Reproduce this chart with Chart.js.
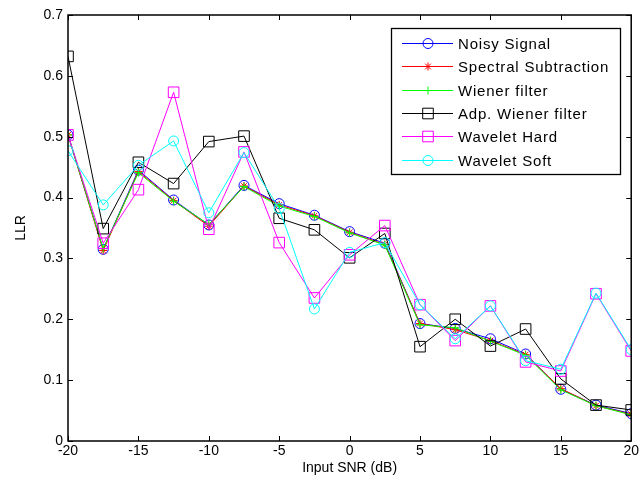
<!DOCTYPE html>
<html>
<head>
<meta charset="utf-8">
<script src="https://cdn.jsdelivr.net/npm/chart.js@4/dist/chart.umd.min.js"></script>
<style>
html, body { margin: 0; padding: 0; background: #fff; }
canvas { display: block; }
</style>
</head>
<body>
<canvas id="llrChart" width="641" height="486"></canvas>
<script>
let snrValues = [-20, -17.5, -15, -12.5, -10, -7.5, -5, -2.5, 0, 2.5, 5, 7.5, 10, 12.5, 15, 17.5, 20];

let noisySignal = [0.503, 0.315, 0.445, 0.396, 0.355, 0.420, 0.390, 0.371, 0.344, 0.325, 0.193, 0.185, 0.168, 0.143, 0.085, 0.059, 0.045];
let spectralSub = [0.503, 0.313, 0.443, 0.395, 0.353, 0.419, 0.388, 0.370, 0.343, 0.323, 0.193, 0.183, 0.165, 0.142, 0.086, 0.058, 0.044];
let wienerFilter = [0.503, 0.316, 0.441, 0.394, 0.356, 0.418, 0.386, 0.369, 0.342, 0.322, 0.191, 0.186, 0.164, 0.141, 0.084, 0.058, 0.043];
let adpWiener = [0.632, 0.349, 0.458, 0.423, 0.492, 0.501, 0.366, 0.347, 0.301, 0.341, 0.155, 0.200, 0.156, 0.184, 0.102, 0.059, 0.051];
let waveletHard = [0.503, 0.325, 0.413, 0.573, 0.348, 0.475, 0.326, 0.235, 0.306, 0.354, 0.224, 0.165, 0.222, 0.130, 0.115, 0.242, 0.148];
let waveletSoft = [0.477, 0.388, 0.453, 0.493, 0.375, 0.474, 0.382, 0.217, 0.310, 0.326, 0.224, 0.168, 0.222, 0.132, 0.118, 0.243, 0.150];

let seriesNames = ["Noisy Signal", "Spectral Subtraction", "Wiener filter", "Adp. Wiener filter", "Wavelet Hard", "Wavelet Soft"];
let seriesData = [noisySignal, spectralSub, wienerFilter, adpWiener, waveletHard, waveletSoft];
let seriesColors = ["#0000ff", "#ff0000", "#00ff00", "#000000", "#ff00ff", "#00ffff"];
let seriesMarkers = ["circle", "star", "cross", "rect", "rect", "circle"];
let markerSizes = [5, 4, 4, 7.5, 7.5, 5];

let yTicks = [0, 0.1, 0.2, 0.3, 0.4, 0.5, 0.6, 0.7];
let xTicks = [-20, -15, -10, -5, 0, 5, 10, 15, 20];

const FONT = "'Liberation Sans', Arial, Helvetica, sans-serif";

// matlab style box with inward ticks on all four sides
const boxTicks = {
    id: "boxTicks",
    afterDatasetsDraw(chart) {
        let ctx = chart.ctx;
        let a = chart.chartArea;
        let xs = chart.scales.x, ys = chart.scales.y;
        ctx.save();
        ctx.strokeStyle = "#000";
        ctx.lineWidth = 1;
        ctx.beginPath();
        xTicks.forEach(v => {
            let px = Math.round(xs.getPixelForValue(v)) + 0.5;
            ctx.moveTo(px, a.bottom); ctx.lineTo(px, a.bottom - 5);
            ctx.moveTo(px, a.top); ctx.lineTo(px, a.top + 5);
        });
        yTicks.forEach(v => {
            let py = Math.round(ys.getPixelForValue(v)) + 0.5;
            ctx.moveTo(a.left, py); ctx.lineTo(a.left + 5, py);
            ctx.moveTo(a.right, py); ctx.lineTo(a.right - 5, py);
        });
        ctx.stroke();
        ctx.lineWidth = 1.5;
        ctx.strokeRect(a.left, a.top, a.right - a.left, a.bottom - a.top);
        ctx.restore();
    }
};

function drawMarker(ctx, style, r, x, y, color) {
    ctx.strokeStyle = color;
    ctx.lineWidth = 1;
    ctx.beginPath();
    if (style === "circle") {
        ctx.arc(x, y, r, 0, Math.PI * 2);
    } else if (style === "rect") {
        let s = r * Math.SQRT1_2;
        ctx.rect(x - s, y - s, 2 * s, 2 * s);
    } else if (style === "cross") {
        ctx.moveTo(x - r, y); ctx.lineTo(x + r, y);
        ctx.moveTo(x, y - r); ctx.lineTo(x, y + r);
    } else if (style === "star") {
        ctx.moveTo(x - r, y); ctx.lineTo(x + r, y);
        ctx.moveTo(x, y - r); ctx.lineTo(x, y + r);
        let d = r * Math.SQRT1_2;
        ctx.moveTo(x - d, y - d); ctx.lineTo(x + d, y + d);
        ctx.moveTo(x - d, y + d); ctx.lineTo(x + d, y - d);
    }
    ctx.stroke();
}

const boxLegend = {
    id: "boxLegend",
    afterDraw(chart) {
        let ctx = chart.ctx;
        let a = chart.chartArea;
        let w = 229, h = 146;
        let left = Math.round(a.right - 11 - w), top = Math.round(a.top + 13);
        ctx.save();
        ctx.fillStyle = "#fff";
        ctx.fillRect(left, top, w, h);
        ctx.strokeStyle = "#000";
        ctx.lineWidth = 1.3;
        ctx.strokeRect(left + 0.5, top + 0.5, w, h);
        ctx.font = "15px " + FONT;
        ctx.letterSpacing = "0.8px";
        ctx.textBaseline = "middle";
        seriesNames.forEach((name, i) => {
            let y = Math.round(top + 15 + i * 23.3) + 0.5;
            ctx.strokeStyle = seriesColors[i];
            ctx.lineWidth = 1;
            ctx.beginPath();
            ctx.moveTo(left + 11, y); ctx.lineTo(left + 62, y);
            ctx.stroke();
            drawMarker(ctx, seriesMarkers[i], markerSizes[i], left + 37, y, seriesColors[i]);
            ctx.fillStyle = "#000";
            ctx.fillText(name, left + 67, y + 1);
        });
        ctx.restore();
    }
};

let datasets = seriesNames.map((name, i) => ({
    label: name,
    data: snrValues.map((x, j) => ({ x: x, y: seriesData[i][j] })),
    borderColor: seriesColors[i],
    backgroundColor: "rgba(0,0,0,0)",
    borderWidth: 1,
    pointStyle: seriesMarkers[i],
    pointRadius: markerSizes[i],
    pointBorderColor: seriesColors[i],
    pointBorderWidth: 1,
    pointBackgroundColor: "rgba(0,0,0,0)",
    tension: 0,
    fill: false,
    order: seriesNames.length - i
}));

new Chart(document.getElementById("llrChart").getContext("2d"), {
    type: "line",
    data: { datasets: datasets },
    options: {
        responsive: false,
        animation: false,
        layout: { padding: { top: 15, right: 5, left: 0, bottom: 0 } },
        plugins: { legend: { display: false }, tooltip: { enabled: false } },
        scales: {
            x: {
                type: "linear",
                min: -20, max: 20,
                grid: { display: false, drawTicks: false },
                border: { display: false },
                afterFit(scale) { scale.height = 45; },
                ticks: {
                    stepSize: 5,
                    padding: 2,
                    color: "#000",
                    font: { family: FONT, size: 14 },
                    maxRotation: 0
                },
                title: {
                    display: true,
                    text: "Input SNR (dB)",
                    color: "#000",
                    font: { family: FONT, size: 14 },
                    padding: { top: 0, bottom: 9 }
                }
            },
            y: {
                min: 0, max: 0.7,
                grid: { display: false, drawTicks: false },
                border: { display: false },
                afterFit(scale) { scale.width = 68; },
                ticks: {
                    stepSize: 0.1,
                    padding: 5,
                    color: "#000",
                    font: { family: FONT, size: 14 },
                    callback: v => v === 0 ? "0" : v.toFixed(1)
                },
                title: {
                    display: true,
                    text: "LLR",
                    color: "#000",
                    font: { family: FONT, size: 14 },
                    padding: { top: 13, bottom: 0 }
                }
            }
        }
    },
    plugins: [boxTicks, boxLegend]
});
</script>
</body>
</html>
